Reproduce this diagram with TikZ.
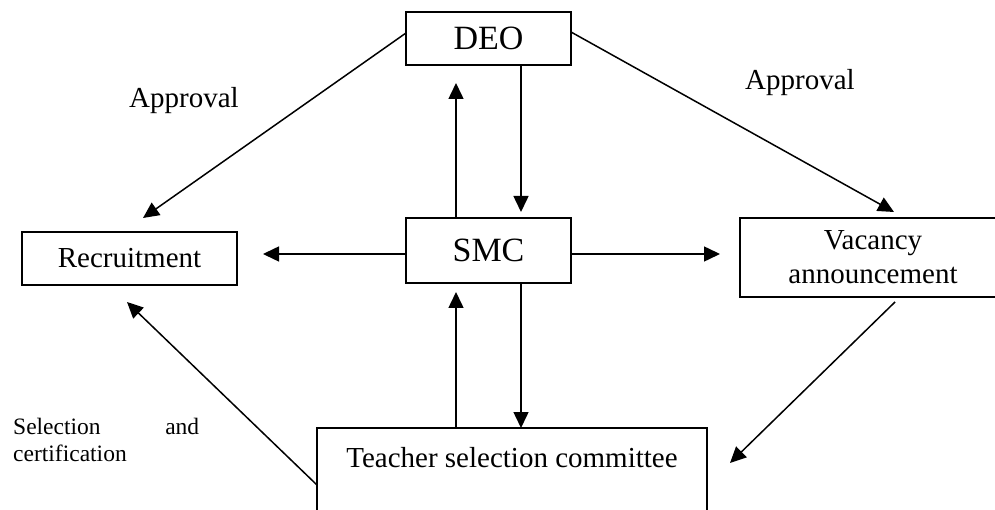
\documentclass[tikz,border=0pt]{standalone}
\usepackage{fontspec}
\setmainfont{Liberation Serif}
\usetikzlibrary{arrows.meta,calc}
\begin{document}
\begin{tikzpicture}[x=1pt,y=-1pt,
  box/.style={draw,line width=1.5pt,rectangle,inner sep=0pt},
  big/.style={font=\fontsize{34}{38}\selectfont},
  mid/.style={font=\fontsize{29}{33}\selectfont},
  small/.style={font=\fontsize{23.5}{27}\selectfont},
  conn/.style={line width=1.5pt,-{Triangle[length=16pt,width=15pt]}}]
\clip (0,0) rectangle (995,510);
\fill[white] (0,0) rectangle (995,510);
% boxes
\node[box,big,minimum width=165pt,minimum height=53pt] (deo) at (488.5,38.5) {\raisebox{-3pt}{DEO}};
\node[box,big,minimum width=165pt,minimum height=65pt] (smc) at (488.5,250.5) {SMC};
\node[box,mid,minimum width=215pt,minimum height=53pt] (rec) at (129.5,258.5) {Recruitment};
\node[box,mid,minimum width=266pt,minimum height=79pt,align=center] (vac) at (873,257.5) {\raisebox{-4pt}{Vacancy}\\[1pt]\raisebox{-4pt}{announcement}};
\node[box,minimum width=390pt,minimum height=132pt] (tsc) at (512,494) {};
\node[mid,anchor=base] (tsctext) at (512,467) {Teacher selection committee};
% labels
\node[mid,anchor=base west,inner sep=0pt] (ap1) at (129,108) {Approval};
\node[mid,anchor=base west,inner sep=0pt] (ap2) at (745,90) {Approval};
\node[small,anchor=north west,inner sep=0pt,align=left] (selcert) at (13,418)
  {\makebox[186pt][s]{Selection and}\\certification};
% connector end points
\coordinate (c1s) at (406,33);  \coordinate (c1e) at (143,218);
\coordinate (c2s) at (571,32);  \coordinate (c2e) at (894,212);
\coordinate (c3s) at (456,218); \coordinate (c3e) at (456,83);
\coordinate (c4s) at (521,65);  \coordinate (c4e) at (521,212);
\coordinate (c5s) at (406,254); \coordinate (c5e) at (263,254);
\coordinate (c6s) at (571,254); \coordinate (c6e) at (720,254);
\coordinate (c7s) at (456,428); \coordinate (c7e) at (456,292);
\coordinate (c8s) at (521,283); \coordinate (c8e) at (521,428);
\coordinate (c9s) at (317,485); \coordinate (c9e) at (127,302);
\coordinate (c10s) at (895,302); \coordinate (c10e) at (730,463);
% connectors
\draw[conn] (c1s) -- (c1e);
\draw[conn] (c2s) -- (c2e);
\draw[conn] (c3s) -- (c3e);
\draw[conn] (c4s) -- (c4e);
\draw[conn] (c5s) -- (c5e);
\draw[conn] (c6s) -- (c6e);
\draw[conn] (c7s) -- (c7e);
\draw[conn] (c8s) -- (c8e);
\draw[conn] (c9s) -- (c9e);
\draw[conn] (c10s) -- (c10e);
\end{tikzpicture}
\end{document}
